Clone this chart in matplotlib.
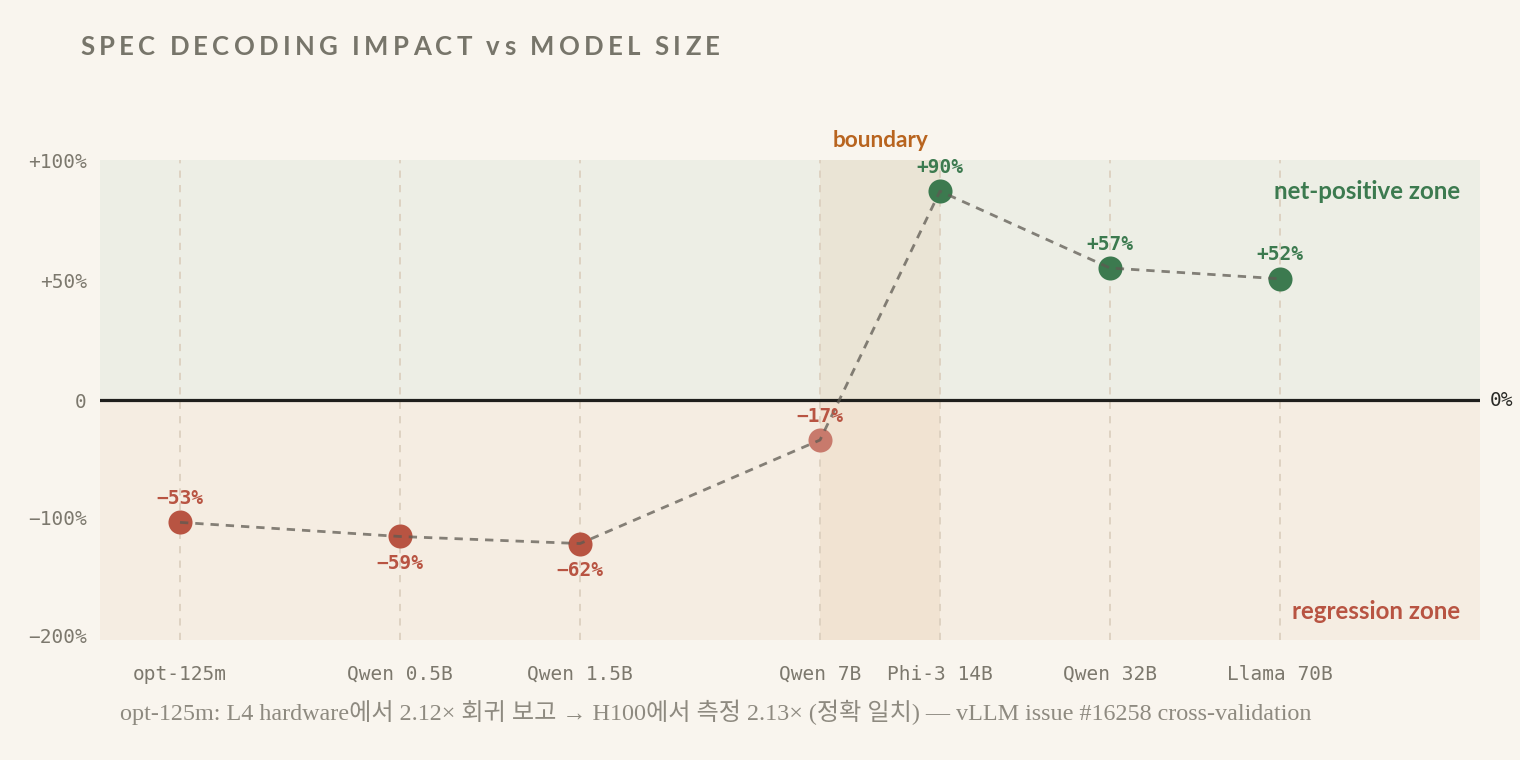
import numpy as np
import matplotlib
matplotlib.use("Agg")
import matplotlib.pyplot as plt

# ---- data ----
models = ["opt-125m", "Qwen 0.5B", "Qwen 1.5B", "Qwen 7B", "Phi-3 14B", "Qwen 32B", "Llama 70B"]
x_pos = [80, 300, 480, 720, 840, 1010, 1180]
y_vals = [-104, -116, -122, -34, 87, 55, 50.5]
point_labels = ["\u221253%", "\u221259%", "\u221262%", "\u221217%", "+90%", "+57%", "+52%"]
label_above = [True, False, False, True, True, True, True]
y_ticks = [100, 50, 0, -100, -200]
y_ticklabels = ["+100%", "+50%", "0", "\u2212100%", "\u2212200%"]
boundary = (720, 840)

title = "SPEC DECODING IMPACT vs MODEL SIZE"
footnote = "opt-125m: L4 hardware에서 2.12× 회귀 보고 → H100에서 측정 2.13× (정확 일치) — vLLM issue #16258 cross-validation"

# ---- style ----
BG = "#f9f5ee"
POS_BG = "#edeee5"
NEG_BG = "#f5ede2"
GREEN = "#3c7a4f"
RED = "#b85442"
RED_LIGHT = "#c87a6c"
GRAY_TXT = "#7c786d"
MONO = "DejaVu Sans Mono"
SANS = "Lato"

K = 0.49
def fwd(y):
    y = np.asarray(y, dtype=float)
    return np.where(y >= 0, y, y * K)
def inv(y):
    y = np.asarray(y, dtype=float)
    return np.where(y >= 0, y, y / K)

fig = plt.figure(figsize=(15.2, 7.6), dpi=100, facecolor=BG)
ax = fig.add_axes([100 / 1520, 120 / 760, 1380 / 1520, 480 / 760])
ax.set_facecolor("none")
ax.set_yscale("function", functions=(fwd, inv))
ax.set_xlim(0, 1380)
ax.set_ylim(-204, 100)

ax.axhspan(0, 100, color=POS_BG, zorder=0, lw=0)
ax.axhspan(-204, 0, color=NEG_BG, zorder=0, lw=0)
ax.axvspan(boundary[0], boundary[1], color="#d4904a", alpha=0.10, zorder=0.5, lw=0)

for xp in x_pos:
    ax.axvline(xp, color="#dcd0bf", lw=1.3, ls=(0, (4, 4)), zorder=1)

ax.axhline(0, color="#1f1f1c", lw=2.3, zorder=2)

colors = [GREEN if v > 0 else RED for v in y_vals]
for i, (xp, yv) in enumerate(zip(x_pos, y_vals)):
    c = RED_LIGHT if i == 3 else colors[i]
    ax.scatter([xp], [yv], s=300, color=c, zorder=3, lw=0)

ax.plot(x_pos, y_vals, color="#5e5a52", alpha=0.75, lw=2.0, ls=(0, (3, 2.5)), zorder=4)

for i, (xp, yv, lab, up) in enumerate(zip(x_pos, y_vals, point_labels, label_above)):
    off = 24 if up else -27
    ax.annotate(lab, (xp, yv), xytext=(0, off * 0.72), textcoords="offset points",
                ha="center", va="center", fontsize=14, fontweight="bold",
                family=MONO, color=colors[i], zorder=5)

ax.set_xticks(x_pos)
ax.set_xticklabels(models, family=MONO, fontsize=14, color=GRAY_TXT)
ax.set_yticks(y_ticks)
ax.set_yticklabels(y_ticklabels, family=MONO, fontsize=14, color=GRAY_TXT)
ax.yaxis.set_minor_locator(matplotlib.ticker.NullLocator())
ax.tick_params(axis="x", length=0, pad=18)
ax.tick_params(axis="y", length=0, pad=9.5)
for s in ax.spines.values():
    s.set_visible(False)

ax.text(1.007, 0, "0%", transform=ax.get_yaxis_transform(), ha="left", va="center",
        family=MONO, fontsize=14, color="#2a2a26")

ax.text(1360, 87, "net-positive zone", ha="right", va="center", family=SANS,
        fontsize=17.4, fontweight="bold", color=GREEN)
ax.text(1360, -180, "regression zone", ha="right", va="center", family=SANS,
        fontsize=17.4, fontweight="bold", color=RED)
ax.text((boundary[0] + boundary[1]) / 2, 1.04, "boundary", transform=ax.get_xaxis_transform(),
        ha="center", va="center", family=SANS, fontsize=16.3, fontweight="bold", color="#b8641f")

# title with letter spacing
fig.canvas.draw()
renderer = fig.canvas.get_renderer()
xpix = 80.0
ypix = 760 - 47
spacing = 4.25
for ch in title:
    t = fig.text(xpix / 1520, ypix / 760, ch, family=SANS, fontsize=18.5, fontweight="bold",
                 color="#77756a", ha="left", va="center")
    w = t.get_window_extent(renderer).width
    if ch == " ":
        w = 6.0
    xpix += w + spacing

fig.text(120 / 1520, (760 - 712) / 760, footnote, family=["Liberation Serif", "Noto Sans CJK KR"],
         fontsize=17.4, color="#8e8a80", ha="left", va="center")

fig.savefig("out.png", dpi=100, facecolor=BG)
